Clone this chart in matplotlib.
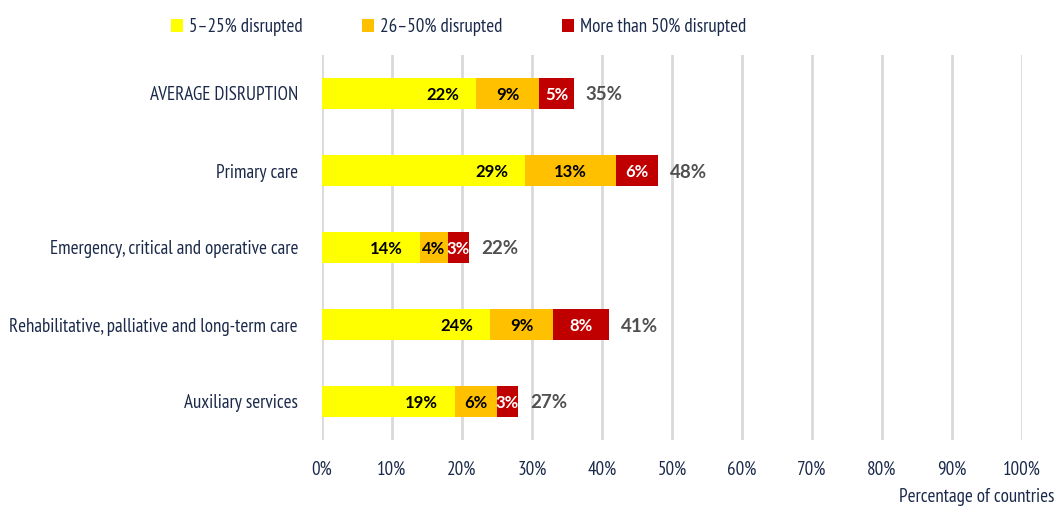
import matplotlib.pyplot as plt
import matplotlib.font_manager as fm
import numpy as np

# data
categories = ['AVERAGE DISRUPTION', 'Primary care', 'Emergency, critical and operative care',
              'Rehabilitative, palliative and long-term care', 'Auxiliary services']
low = [22, 29, 14, 24, 19]       # 5-25% disrupted
mid = [9, 13, 4, 9, 6]           # 26-50% disrupted
high = [5, 6, 3, 8, 3]           # more than 50% disrupted
totals = [35, 48, 22, 41, 27]
series_names = ['5\u201325% disrupted', '26\u201350% disrupted', 'More than 50% disrupted']
colors = ['#FFFF00', '#FFC000', '#C00000']
xticks = list(range(0, 101, 10))


def pick_font(prefs):
    names = {f.name for f in fm.fontManager.ttflist}
    for p in prefs:
        if p in names:
            return p
    return 'DejaVu Sans'


narrow = pick_font(['PT Sans Narrow', 'Fira Sans Condensed', 'Roboto Condensed', 'Liberation Sans Narrow'])
boldf = pick_font(['Lato', 'Open Sans'])
navy = '#1B2A4A'
fs = 13.7

fig = plt.figure(figsize=(10.54, 5.07), dpi=100)
ax = fig.add_axes([322 / 1054, 1 - 440 / 507, 700 / 1054, 385 / 507])

y = np.arange(len(categories))
lefts = np.zeros(len(categories))
for vals, col, name in zip([low, mid, high], colors, series_names):
    bars = ax.barh(y, vals, left=lefts, height=0.415, color=col, label=name, zorder=3)
    txt_col = 'white' if col == '#C00000' else 'black'
    for b, v in zip(bars, vals):
        cy = b.get_y() + b.get_height() / 2
        if col == '#FFFF00':
            # yellow labels sit near the right end of the segment
            ax.text(b.get_x() + b.get_width() - 2.4, cy, f'{v}%', ha='right', va='center_baseline',
                    fontsize=12, fontweight='bold', color=txt_col, family=boldf, zorder=4)
        else:
            ax.text(b.get_x() + b.get_width() / 2, cy, f'{v}%', ha='center', va='center_baseline',
                    fontsize=12, fontweight='bold', color=txt_col, family=boldf, zorder=4)
    lefts += np.array(vals)

for yi, end, t in zip(y, lefts, totals):
    ax.text(end + 1.7, yi, f'{t}%', ha='left', va='center_baseline', fontsize=13.5,
            fontweight='bold', color='#505050', family=boldf, zorder=4)

ax.set_xlim(0, 100)
ax.set_ylim(len(categories) - 0.5, -0.5)
ax.set_xticks(xticks)
ax.set_xticklabels([f'{t}%' for t in xticks], family=narrow, fontsize=fs, color=navy)
ax.set_yticks(y)
ax.set_yticklabels(categories, family=narrow, fontsize=fs, color=navy)
ax.tick_params(axis='both', length=0)
ax.tick_params(axis='x', pad=15)
ax.tick_params(axis='y', pad=17.3)
ax.grid(axis='x', color='#D9D9D9', linewidth=2, zorder=0)
ax.set_axisbelow(True)
for s in ax.spines.values():
    s.set_visible(False)

fig.text(1.0, 1 - 497 / 507, 'Percentage of countries', ha='right', va='center',
         family=narrow, fontsize=fs, color=navy)

fig.legend(loc='center left', bbox_to_anchor=(171 / 1054, 1 - 27 / 507), ncol=3, frameon=False,
           borderpad=0, borderaxespad=0, handlelength=0.64, handleheight=0.64,
           handletextpad=0.32, columnspacing=3.1,
           prop={'family': narrow, 'size': fs}, labelcolor=navy)

fig.savefig('out.png', dpi=100)
